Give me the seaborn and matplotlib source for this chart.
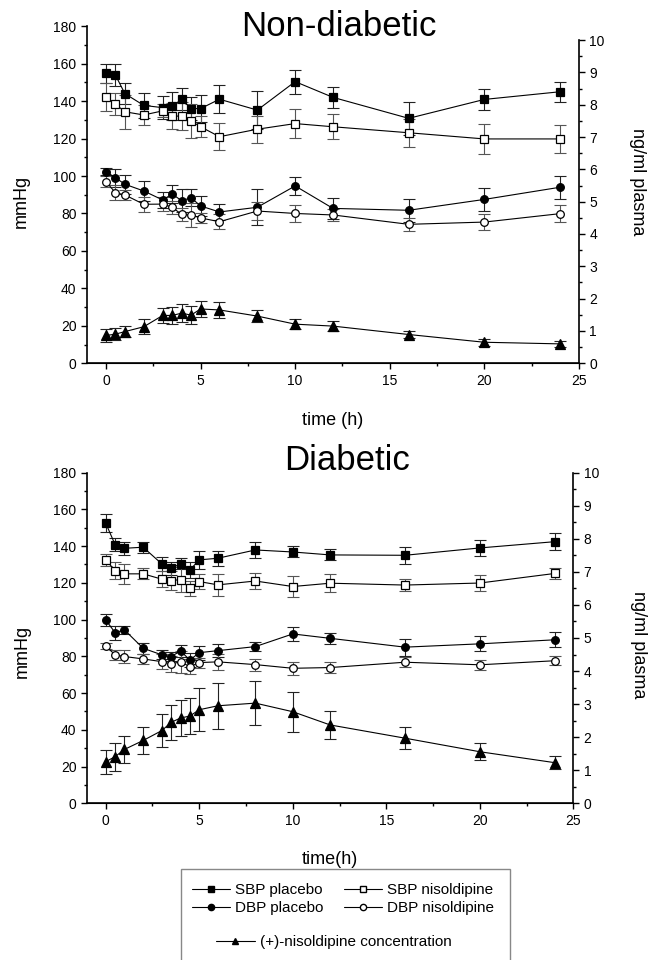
import matplotlib
matplotlib.use('Agg')
import matplotlib.pyplot as plt
import seaborn as sns
from matplotlib.lines import Line2D
from matplotlib.patches import Rectangle
from matplotlib.ticker import MultipleLocator

time_h = [0, 0.5, 1, 2, 3, 3.5, 4, 4.5, 5, 6, 8, 10, 12, 16, 20, 24]

# Non-diabetic (mmHg, concentration in ng/ml)
nd_sbp_placebo = [154.8, 153.9, 144.0, 137.7, 136.5, 137.2, 141.0, 136.0, 136.0, 141.0, 135.2, 150.4, 142.0, 130.8, 140.9, 145.0]
nd_sbp_placebo_err = [5, 6, 5.5, 6.5, 6, 7.5, 6, 6, 7, 7.5, 10, 6.4, 5.5, 8.7, 5.4, 5.4]
nd_sbp_nisol = [142.3, 138.4, 134.3, 132.6, 134.8, 132.0, 132.0, 129.4, 126.3, 121.0, 125.0, 128.0, 126.3, 123.1, 119.8, 119.8]
nd_sbp_nisol_err = [7.5, 6, 9, 5.3, 3.5, 7, 7.5, 9, 5.5, 7.3, 7.3, 7.6, 6.8, 7.5, 8, 7.6]
nd_dbp_placebo = [102.3, 99.1, 95.6, 92.0, 87.2, 90.4, 86.8, 88.4, 84.0, 80.8, 83.3, 94.7, 82.7, 81.7, 87.5, 94.0]
nd_dbp_placebo_err = [2, 4.8, 5.2, 5.2, 4.3, 4.6, 6, 4.4, 5.2, 4.3, 9.6, 5, 5.7, 6, 6.2, 6.2]
nd_dbp_nisol = [97.0, 91.1, 89.9, 84.9, 85.0, 83.3, 79.5, 79.2, 77.6, 75.6, 81.3, 80.0, 79.2, 74.2, 75.4, 79.9]
nd_dbp_nisol_err = [3, 4, 2.7, 4, 3.6, 3.6, 3.6, 6.2, 2.8, 4, 4.8, 4.4, 3.2, 3.6, 4.3, 4.4]
nd_conc = [0.86, 0.90, 0.98, 1.13, 1.48, 1.48, 1.55, 1.49, 1.68, 1.65, 1.46, 1.21, 1.15, 0.89, 0.65, 0.60]
nd_conc_err = [0.2, 0.18, 0.18, 0.23, 0.22, 0.27, 0.27, 0.28, 0.26, 0.26, 0.19, 0.15, 0.16, 0.12, 0.11, 0.1]

# Diabetic
d_sbp_placebo = [152.5, 140.8, 138.8, 139.4, 130.3, 128.0, 130.3, 127.0, 132.5, 133.4, 137.9, 136.8, 135.2, 135.0, 139.0, 142.4]
d_sbp_placebo_err = [4.7, 3.4, 3.4, 3, 3.6, 3.6, 3, 4.4, 4.7, 4.2, 4.5, 3, 3, 4.7, 4.5, 4.7]
d_sbp_nisol = [132.5, 126.7, 124.9, 124.9, 122.0, 121.2, 121.8, 117.0, 120.7, 118.9, 121.0, 118.0, 119.8, 118.8, 119.9, 125.1]
d_sbp_nisol_err = [3.3, 4.5, 5.4, 3, 4.5, 5.1, 7, 4, 4.2, 5.8, 4.5, 5.8, 4.9, 3.4, 4.2, 3.1]
d_dbp_placebo = [99.8, 92.9, 94.4, 84.4, 80.8, 79.9, 82.9, 78.0, 82.0, 83.1, 85.3, 92.2, 89.8, 85.0, 86.8, 89.0]
d_dbp_placebo_err = [3.1, 3.8, 2.2, 3.1, 2.4, 2.7, 3.3, 3.6, 3.8, 3.4, 2.5, 4, 3.1, 4.7, 4, 4]
d_dbp_nisol = [85.7, 80.8, 79.9, 78.6, 77.1, 75.9, 77.0, 74.4, 76.6, 77.0, 75.5, 73.5, 73.9, 76.8, 75.4, 77.6]
d_dbp_nisol_err = [1.5, 2.7, 3.3, 2.9, 4, 4.5, 5.8, 4.2, 2.7, 4.5, 3.3, 3.6, 3.1, 2.7, 2.7, 2.5]
d_conc = [1.26, 1.41, 1.63, 1.90, 2.20, 2.45, 2.58, 2.64, 2.83, 2.95, 3.03, 2.77, 2.37, 1.97, 1.56, 1.23]
d_conc_err = [0.36, 0.42, 0.41, 0.42, 0.5, 0.53, 0.55, 0.53, 0.65, 0.7, 0.66, 0.6, 0.41, 0.33, 0.25, 0.2]

legend_labels = ['SBP placebo', 'SBP nisoldipine', 'DBP placebo', 'DBP nisoldipine',
                 '(+)-nisoldipine concentration']

sns.set_style('ticks')
plt.rcParams['font.family'] = ['Liberation Sans', 'DejaVu Sans']
plt.rcParams['text.color'] = 'black'
plt.rcParams['axes.labelcolor'] = 'black'
plt.rcParams['axes.edgecolor'] = 'black'

TICK_FS = 10
LABEL_FS = 13


def draw_series(ax, y, err, marker, filled, ms=5.5):
    ax.errorbar(time_h, y, yerr=err, fmt='none', ecolor='#222222' if filled else '#555555',
                elinewidth=0.8, capsize=4.5, capthick=0.8, zorder=2)
    sns.lineplot(x=time_h, y=y, ax=ax, color='black', lw=0.8, marker=marker,
                 markersize=ms, markerfacecolor='black' if filled else 'white',
                 markeredgecolor='black', markeredgewidth=0.9, sort=False,
                 errorbar=None, zorder=3)


def style_panel(ax, axr, xlabel, right_top, ylab_y, rlab_x, rlab_y):
    ax.set_xlim(-1, 25)
    ax.set_ylim(0, 180)
    ax.xaxis.set_major_locator(MultipleLocator(5))
    ax.xaxis.set_minor_locator(MultipleLocator(2.5))
    ax.yaxis.set_major_locator(MultipleLocator(20))
    ax.yaxis.set_minor_locator(MultipleLocator(10))
    axr.set_ylim(0, right_top)
    axr.set_yticks(range(0, 11))
    axr.yaxis.set_minor_locator(MultipleLocator(0.5))
    axr.spines['right'].set_bounds(0, 10)

    for a in (ax, axr):
        a.spines['top'].set_visible(False)
        a.tick_params(which='major', direction='out', length=4, width=1,
                      labelsize=TICK_FS, colors='black')
        a.tick_params(which='minor', direction='out', length=2.5, width=1, colors='black')
    ax.spines['right'].set_visible(False)
    axr.spines['left'].set_visible(False)
    for s in ('left', 'bottom'):
        ax.spines[s].set_linewidth(1.2)
    axr.spines['right'].set_linewidth(1.2)

    ax.set_xlabel(xlabel, fontsize=LABEL_FS)
    ax.xaxis.set_label_coords(0.5, -0.145)
    ax.set_ylabel('mmHg', fontsize=LABEL_FS)
    ax.yaxis.set_label_coords(-0.116, ylab_y)
    axr.set_ylabel('ng/ml plasma', fontsize=LABEL_FS, rotation=270, va='center')
    axr.yaxis.set_label_coords(rlab_x, rlab_y)


fig = plt.figure(figsize=(6.49, 9.6), dpi=100)
ax_top = fig.add_axes([0.1341, 0.6216, 0.758, 0.3511])
ax_bot = fig.add_axes([0.1341, 0.1632, 0.7493, 0.3445])

panels = [
    (ax_top, 'time (h)', 10.43, 0.48, 1.118, 0.54,
     nd_sbp_placebo, nd_sbp_placebo_err, nd_sbp_nisol, nd_sbp_nisol_err,
     nd_dbp_placebo, nd_dbp_placebo_err, nd_dbp_nisol, nd_dbp_nisol_err,
     nd_conc, nd_conc_err),
    (ax_bot, 'time(h)', 10.0, 0.46, 1.135, 0.48,
     d_sbp_placebo, d_sbp_placebo_err, d_sbp_nisol, d_sbp_nisol_err,
     d_dbp_placebo, d_dbp_placebo_err, d_dbp_nisol, d_dbp_nisol_err,
     d_conc, d_conc_err),
]

for (ax, xlabel, rtop, yly, rlx, rly, sp, spe, sn, sne, dp, dpe, dn, dne, c, ce) in panels:
    axr = ax.twinx()
    draw_series(ax, sp, spe, 's', True)
    draw_series(ax, sn, sne, 's', False)
    draw_series(ax, dp, dpe, 'o', True)
    draw_series(ax, dn, dne, 'o', False)
    draw_series(axr, c, ce, '^', True, ms=6.5)
    style_panel(ax, axr, xlabel, rtop, yly, rlx, rly)

fig.text(0.522, 1 - 27 / 960, 'Non-diabetic', ha='center', va='center', fontsize=25)
fig.text(0.535, 1 - 461 / 960, 'Diabetic', ha='center', va='center', fontsize=25)

# legend box, open at the bottom edge of the figure
box = Rectangle((181 / 649, -0.01), (510 - 181) / 649, 1 - 869 / 960 + 0.01,
                transform=fig.transFigure, fill=False, edgecolor='#888888', lw=1.0)
fig.add_artist(box)

handles = [
    Line2D([], [], color='black', lw=0.8, marker='s', markersize=4.5, mfc='black', mec='black'),
    Line2D([], [], color='black', lw=0.8, marker='s', markersize=4.5, mfc='white', mec='black'),
    Line2D([], [], color='black', lw=0.8, marker='o', markersize=4.5, mfc='black', mec='black'),
    Line2D([], [], color='black', lw=0.8, marker='o', markersize=4.5, mfc='white', mec='black'),
]
order = [0, 2, 1, 3]
fig.legend([handles[i] for i in order], [legend_labels[i] for i in order], ncol=2,
           loc='center', bbox_to_anchor=(343 / 649, 1 - 899 / 960), frameon=False,
           fontsize=11, handlelength=2.5, handletextpad=0.35, columnspacing=1.3,
           labelspacing=0.25, borderpad=0)
tri = Line2D([], [], color='black', lw=0.8, marker='^', markersize=5, mfc='black', mec='black')
fig.legend([tri], [legend_labels[4]], loc='center',
           bbox_to_anchor=(334 / 649, 1 - 942 / 960), frameon=False, fontsize=11,
           handlelength=2.5, handletextpad=0.35, borderpad=0)

fig.savefig('out.png', dpi=100)
